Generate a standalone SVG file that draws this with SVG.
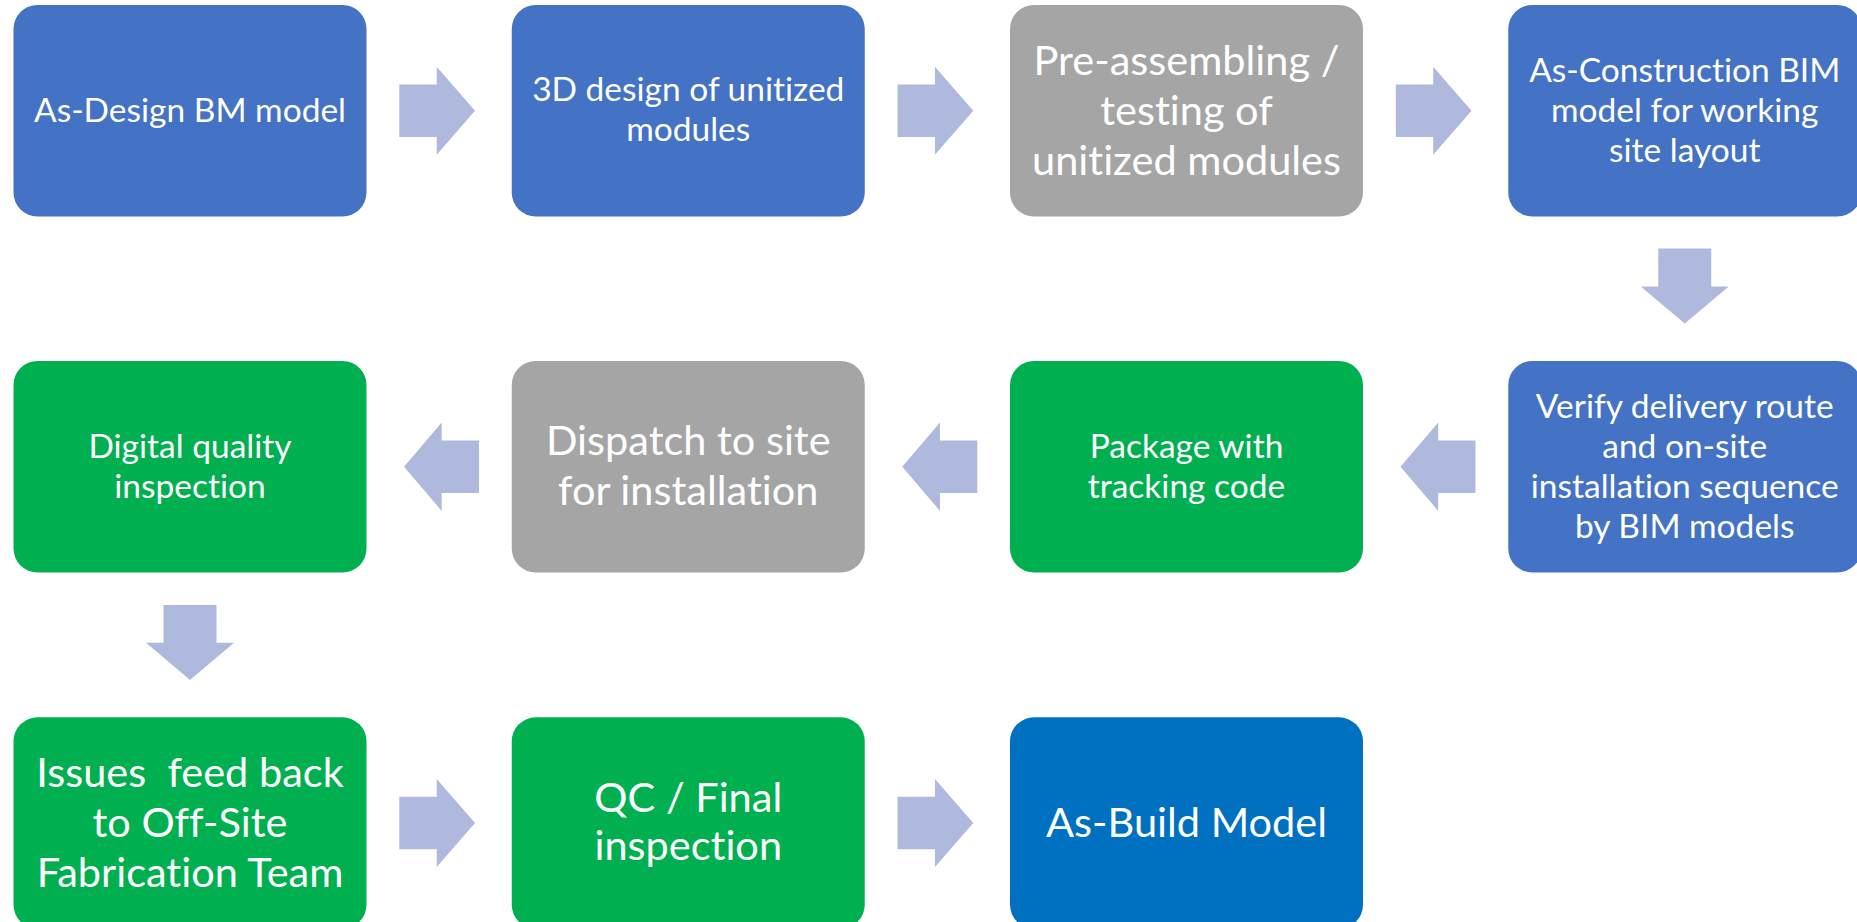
<svg xmlns="http://www.w3.org/2000/svg" width="1857" height="922" viewBox="0 0 1857 922">
<style>
.box{stroke:none}
.blue{fill:#4472C4}
.gray{fill:#A5A5A5}
.green{fill:#00B050}
.dblue{fill:#0070C0}
.arrow{fill:#AFB9DD}
text{font-family:Lato,"Open Sans","Liberation Sans",sans-serif;fill:#FFFFFF;text-anchor:middle;font-variant-ligatures:none;font-feature-settings:"liga" 0,"clig" 0}
.s{font-size:33.5px}
.b{font-size:41.5px}
</style>
<rect width="1857" height="922" fill="#FFFFFF"/>
<g id="connectors">
<polygon class="arrow" points="399.3,84.5 436.7,84.5 436.7,66.7 475,110.75 436.7,154.8 436.7,137 399.3,137"/>
<polygon class="arrow" points="897.55,84.5 934.95,84.5 934.95,66.7 973.25,110.75 934.95,154.8 934.95,137 897.55,137"/>
<polygon class="arrow" points="1395.8,84.5 1433.2,84.5 1433.2,66.7 1471.5,110.75 1433.2,154.8 1433.2,137 1395.8,137"/>
<polygon class="arrow" points="1658.25,248.5 1711.25,248.5 1711.25,286.5 1728.75,286.5 1684.75,323.5 1640.75,286.5 1658.25,286.5"/>
<polygon class="arrow" points="1400.5,466.7 1438.2,422.5 1438.2,440.5 1475.5,440.5 1475.5,492.9 1438.2,492.9 1438.2,510.9"/>
<polygon class="arrow" points="902.25,466.7 939.95,422.5 939.95,440.5 977.25,440.5 977.25,492.9 939.95,492.9 939.95,510.9"/>
<polygon class="arrow" points="404,466.7 441.7,422.5 441.7,440.5 479,440.5 479,492.9 441.7,492.9 441.7,510.9"/>
<polygon class="arrow" points="163.5,605 216.5,605 216.5,642.7 234,642.7 190,680 146,642.7 163.5,642.7"/>
<polygon class="arrow" points="399.3,796.8 436.7,796.8 436.7,779 475,823 436.7,867 436.7,849.2 399.3,849.2"/>
<polygon class="arrow" points="897.55,796.8 934.95,796.8 934.95,779 973.25,823 934.95,867 934.95,849.2 897.55,849.2"/>
</g>
<g id="n1"><rect class="box blue" x="13.5" y="5" width="353" height="211.5" rx="24"/>
<text class="s" x="190" y="122">As-Design BM model</text></g>
<g id="n2"><rect class="box blue" x="511.75" y="5" width="353" height="211.5" rx="24"/>
<text class="s" x="688.25" y="101">3D design of unitized</text>
<text class="s" x="688.25" y="141">modules</text></g>
<g id="n3"><rect class="box gray" x="1010" y="5" width="353" height="211.5" rx="24"/>
<text class="b" x="1186.5" y="74.5">Pre-assembling /</text>
<text class="b" x="1186.5" y="124.5">testing of</text>
<text class="b" x="1186.5" y="174.5">unitized modules</text></g>
<g id="n4"><rect class="box blue" x="1508.25" y="5" width="353" height="211.5" rx="24"/>
<text class="s" x="1684.75" y="82">As-Construction BIM</text>
<text class="s" x="1684.75" y="122">model for working</text>
<text class="s" x="1684.75" y="162">site layout</text></g>
<g id="n5"><rect class="box blue" x="1508.25" y="361" width="353" height="211.5" rx="24"/>
<text class="s" x="1684.75" y="418">Verify delivery route</text>
<text class="s" x="1684.75" y="458">and on-site</text>
<text class="s" x="1684.75" y="498">installation sequence</text>
<text class="s" x="1684.75" y="538">by BIM models</text></g>
<g id="n6"><rect class="box green" x="1010" y="361" width="353" height="211.5" rx="24"/>
<text class="s" x="1186.5" y="457.5">Package with</text>
<text class="s" x="1186.5" y="497.5">tracking code</text></g>
<g id="n7"><rect class="box gray" x="511.75" y="361" width="353" height="211.5" rx="24"/>
<text class="b" x="688.25" y="455">Dispatch to site</text>
<text class="b" x="688.25" y="505">for installation</text></g>
<g id="n8"><rect class="box green" x="13.5" y="361" width="353" height="211.5" rx="24"/>
<text class="s" x="190" y="457.5">Digital quality</text>
<text class="s" x="190" y="497.5">inspection</text></g>
<g id="n9"><rect class="box green" x="13.5" y="717.3" width="353" height="211.5" rx="24"/>
<text class="b" x="190" y="786.5" xml:space="preserve">Issues  feed back</text>
<text class="b" x="190" y="836.5">to Off-Site</text>
<text class="b" x="190" y="886.5">Fabrication Team</text></g>
<g id="n10"><rect class="box green" x="511.75" y="717.3" width="353" height="211.5" rx="24"/>
<text class="b" x="688.25" y="812">QC / Final</text>
<text class="b" x="688.25" y="860">inspection</text></g>
<g id="n11"><rect class="box dblue" x="1010" y="717.3" width="353" height="211.5" rx="24"/>
<text class="b" x="1186.5" y="837">As-Build Model</text></g>
</svg>
